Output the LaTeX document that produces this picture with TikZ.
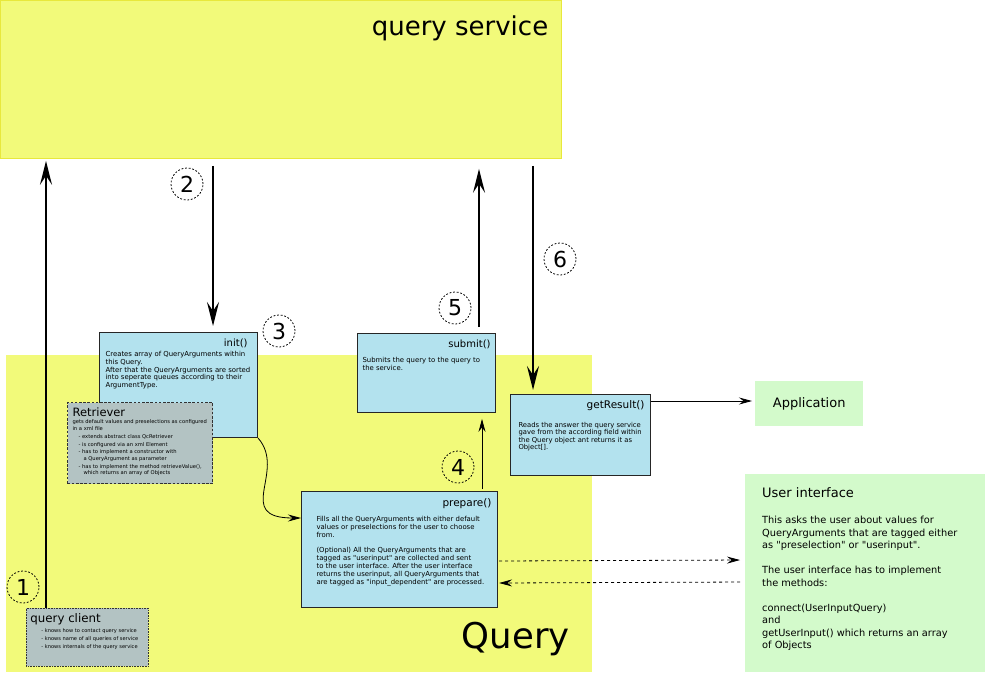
\documentclass[tikz,border=0pt]{standalone}
\usepackage{fontspec}
\setmainfont{DejaVu Sans}
\usetikzlibrary{arrows.meta}

\definecolor{areayellow}{HTML}{F2FA7A}
\definecolor{areaborder}{HTML}{E8E83C}
\definecolor{methodblue}{HTML}{B3E2EE}
\definecolor{notegray}{HTML}{B3C3C3}
\definecolor{outergreen}{HTML}{D3FACB}

\newcommand{\fsize}[2]{\fontsize{#1}{#2}\selectfont}
\newcommand{\boxtext}[3]{\parbox[c][#2][t]{#1}{#3}}
% straight double quote, past the TeX mapping
\newcommand{\dq}{\XeTeXglyph\XeTeXglyphindex "quotedbl"\relax}

\tikzset{
  area/.style={fill=areayellow, anchor=north west, inner sep=0pt},
  method/.style={draw=black!85, line width=1.1pt, fill=methodblue, anchor=north west},
  note/.style={draw=black!80, fill=notegray, anchor=north west},
  outside/.style={fill=outergreen, anchor=north west, inner sep=0pt},
  stepnum/.style={circle, draw, line width=0.8pt, dash pattern=on 1.8pt off 1.8pt,
    minimum size=32pt, inner sep=0pt, font=\fsize{22}{22}},
  flow/.style={-{Stealth[length=24pt,width=12pt,inset=9pt]}, line width=1.5pt},
  thinflow/.style={-{Stealth[length=13pt,width=7pt,inset=4.5pt]}, line width=0.8pt},
}

\begin{document}
\begin{tikzpicture}[x=1pt, y=-1pt]
\useasboundingbox (0,0) rectangle (985,672);

% the two areas
\node[area, draw=areaborder, line width=0.8pt, minimum width=561pt, minimum height=158pt] (service) at (0,0) {};
\node[anchor=base east, font=\fsize{26}{30}] (servicetitle) at ([xshift=-10pt, yshift=-35pt]service.north east) {query service};
\node[area, minimum width=586pt, minimum height=317pt] (query) at (6,355) {};
\node[anchor=base east, font=\fsize{35.5}{40}] (querytitle) at ([xshift=-19pt, yshift=24pt]query.south east) {Query};

% methods of Query
\node[method, inner xsep=6pt, inner ysep=6.5pt] (init) at (99,332) {\boxtext{146pt}{92pt}{%
  {\raggedleft\fsize{10}{12}init()\kern4pt\par}\vspace{2pt}
  {\raggedright\fsize{6.9}{7.8}Creates array of QueryArguments within\\ this Query.\\
   After that the QueryArguments are sorted\\ into seperate queues according to their\\ ArgumentType.\par}}};

\node[note, line width=1.1pt, dash pattern=on 2.6pt off 1.6pt, inner xsep=3pt, inner ysep=5.3pt] (retriever) at (67,402) {\boxtext{139pt}{70.4pt}{%
  {\leftskip=2pt\fsize{11.5}{13}Retriever\par}\vspace{1pt}
  {\raggedright\leftskip=2pt\fsize{5.2}{6.4}gets default values and preselections as configured\\ in a xml file\par\vspace{1.6pt}
   \hspace*{6pt}- extends abstract class QcRetriever\par\vspace{1.4pt}
   \hspace*{6pt}- is configured via an xml Element\par\vspace{1.4pt}
   \hspace*{6pt}- has to implement a constructor with\\ \hspace*{11pt}a QueryArgument as parameter\par\vspace{1.4pt}
   \hspace*{6pt}- has to implement the method retrieveValue(),\\ \hspace*{11pt}which returns an array of Objects\par}}};

\node[method, inner xsep=5pt, inner ysep=6.4pt] (submit) at (357,333) {\boxtext{128pt}{66pt}{%
  {\raggedleft\fsize{10}{12}submit()\par}\vspace{7pt}
  {\raggedright\fsize{6.9}{7.9}Submits the query to the query to\\ the service.\par}}};

\node[method, inner xsep=6pt, inner ysep=6.4pt] (result) at (510,394) {\boxtext{128pt}{68pt}{%
  {\raggedleft\fsize{10.5}{12}getResult()\par}\vspace{10.5pt}
  {\raggedright\leftskip=2pt\fsize{6.8}{7.2}Reads the answer the query service\\ gave from the according field within\\
   the Query object ant returns it as\\ Object[].\par}}};

\node[method, inner xsep=6pt, inner ysep=7.4pt] (prepare) at (301,491) {\boxtext{184pt}{101pt}{%
  {\raggedleft\fsize{10.5}{12}prepare()\par}\vspace{6.5pt}
  {\raggedright\leftskip=9pt\fsize{6.9}{8}Fills all the QueryArguments with either default\\ values or preselections for the user to choose\\ from.\par\vspace{7pt}
   (Optional) All the QueryArguments that are\\ tagged as \dq userinput\dq{} are collected and sent\\
   to the user interface. After the user interface\\ returns the userinput, all QueryArguments that\\
   are tagged as \dq input\_dependent\dq{} are processed.\par}}};

\node[note, line width=0.9pt, dash pattern=on 0.8pt off 0.8pt, inner xsep=4pt, inner ysep=5.5pt] (client) at (26,608) {\boxtext{114pt}{47pt}{%
  {\fsize{11.8}{14}query client\par}\vspace{1.5pt}
  {\fsize{5.1}{7.9}\hspace*{11pt}- knows how to contact query service\\ \hspace*{11pt}- knows name of all queries of service\\
   \hspace*{11pt}- knows internals of the query service\par}}};

% outside of Query
\node[outside, minimum width=108pt, minimum height=45pt, font=\fsize{13}{15}] (app) at (755,381) {Application};

\node[outside, inner xsep=17pt, inner ysep=13pt] (ui) at (745,474) {\boxtext{206pt}{172pt}{%
  {\fsize{13}{15}User interface\par}\vspace{14pt}
  {\raggedright\fsize{9.8}{12.5}This asks the user about values for\\ QueryArguments that are tagged either\\
   as \dq preselection\dq{} or \dq userinput\dq.\par\vspace{12.5pt}
   The user interface has to implement\\ the methods:\par\vspace{12.5pt}
   connect(UserInputQuery)\\ and\\ getUserInput() which returns an array\\ of Objects\par}}};

% steps
\node[stepnum] (one) at (23,587) {1};
\node[stepnum] (two) at (187,184) {2};
\node[stepnum] (three) at (279,331) {3};
\node[stepnum] (four) at (458,467) {4};
\node[stepnum] (five) at (455,308) {5};
\node[stepnum] (six) at (560,259) {6};

% connectors
\draw[flow, line width=1.8pt, shorten >=2pt] ([xshift=20pt]client.north west) -- ([xshift=46pt]service.south west);
\draw[flow, line width=1.3pt, shorten <=7pt, shorten >=6pt] ([xshift=213pt]service.south west) -- ([xshift=114pt]init.north west);
\draw[thinflow] (init.south east) .. controls +(29,33) and +(-68,0) .. ([yshift=-27pt]prepare.north west);
\draw[thinflow, shorten <=2pt, shorten >=6pt] ([xshift=181pt]prepare.north west) -- ([xshift=125pt]submit.south west);
\draw[flow, line width=1.3pt, shorten <=6pt, shorten >=10pt] ([xshift=122pt]submit.north west) -- ([xshift=479pt]service.south west);
\draw[flow, line width=1.8pt, shorten <=7pt, shorten >=4pt] ([xshift=533pt]service.south west) -- ([xshift=23pt]result.north west);
\draw[thinflow, shorten >=3pt] ([yshift=-7pt]result.north east) -- ([yshift=-20pt]app.north west);
\draw[thinflow, dashed, shorten <=1pt, shorten >=5pt] ([yshift=-70pt]prepare.north east) -- ([yshift=-86pt]ui.north west);
\draw[thinflow, dashed, shorten <=5pt, shorten >=1pt] ([yshift=-108pt]ui.north west) -- ([yshift=-92pt]prepare.north east);
\end{tikzpicture}
\end{document}
